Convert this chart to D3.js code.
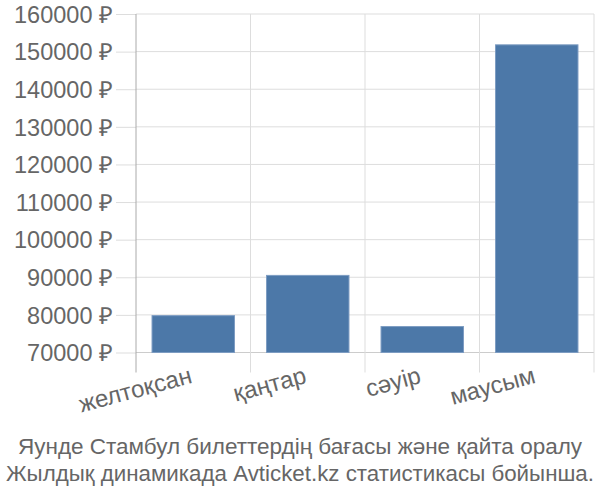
<!DOCTYPE html>
<html>
<head>
<meta charset="utf-8">
<script src="https://cdnjs.cloudflare.com/ajax/libs/d3/7.8.5/d3.min.js"></script>
<style>
  body { margin: 0; background: #fff; }
  svg text { font-family: "Liberation Sans", Arial, sans-serif; fill: #666; }
</style>
</head>
<body>
<svg id="chart" width="600" height="500"></svg>
<script>
// months and average ticket prices (rubles)
const months = ["желтоқсан", "қаңтар", "сәуір", "маусым"];
const prices = [79800, 90500, 76900, 151800];
const yTicks = [70000, 80000, 90000, 100000, 110000, 120000, 130000, 140000, 150000, 160000];
const titleLines = [
    "Яунде Стамбул билеттердің бағасы және қайта оралу",
    "Жылдық динамикада Avticket.kz статистикасы бойынша."
];

const plotLeft = 136, plotRight = 594, plotTop = 14, plotBottom = 352.5;
const tickLen = 20;

const svg = d3.select('#chart');

const x = d3.scaleBand()
            .domain(months)
            .range([plotLeft, plotRight])
            .paddingInner(0.28)
            .paddingOuter(0.14);

const y = d3.scaleLinear()
            .domain([70000, 160000])
            .range([plotBottom, plotTop]);

// horizontal grid + y ticks
const yAxis = d3.axisLeft(y)
            .tickValues(yTicks)
            .tickSize(tickLen)
            .tickPadding(3)
            .tickFormat(d => d + " ₽");

const gy = svg.append('g')
            .attr('transform', `translate(${plotLeft},0)`)
            .call(yAxis);
gy.select('.domain').remove();
gy.selectAll('.tick line').attr('stroke', '#ddd');
gy.selectAll('.tick text').style('font-size', '23.5px').attr('dy', '0.35em');

svg.append('g')
    .selectAll('line')
    .data(yTicks)
    .join('line')
    .attr('x1', plotLeft).attr('x2', plotRight)
    .attr('y1', d => y(d)).attr('y2', d => y(d))
    .attr('stroke', d => d === 70000 ? '#ccc' : '#ddd');

// vertical grid lines at band edges, extending down as ticks
const edges = months.map(m => x(m) - x.step() * x.paddingInner() / 2).concat([plotRight]);
svg.append('g')
    .selectAll('line')
    .data(edges)
    .join('line')
    .attr('x1', d => d).attr('x2', d => d)
    .attr('y1', plotTop).attr('y2', plotBottom + tickLen)
    .attr('stroke', (d, i) => i === 0 ? '#aaa' : '#ddd');

// bars
svg.append('g')
    .selectAll('rect')
    .data(prices)
    .join('rect')
    .attr('x', (d, i) => x(months[i]))
    .attr('width', x.bandwidth())
    .attr('y', d => y(d))
    .attr('height', d => plotBottom - y(d))
    .attr('fill', '#4c78a8')
    .attr('stroke', '#7d9cc2')
    .attr('stroke-width', 1);

// x labels, rotated
svg.append('g')
    .selectAll('text')
    .data(months)
    .join('text')
    .attr('text-anchor', 'end')
    .style('font-size', '24px')
    .attr('transform', d => `translate(${x(d) + x.bandwidth() / 2},${plotBottom + tickLen + 10}) rotate(-15)`)
    .text(d => d);

// caption, squeezed to the page width if it overflows
svg.append('g')
    .selectAll('text')
    .data(titleLines)
    .join('text')
    .attr('x', 300)
    .attr('y', (d, i) => 454 + i * 27)
    .attr('text-anchor', 'middle')
    .style('font-size', '22.5px')
    .text(d => d)
    .each(function() {
        if (this.getComputedTextLength() > 588) {
            d3.select(this).attr('textLength', 588).attr('lengthAdjust', 'spacingAndGlyphs');
        }
    });
</script>
</body>
</html>
